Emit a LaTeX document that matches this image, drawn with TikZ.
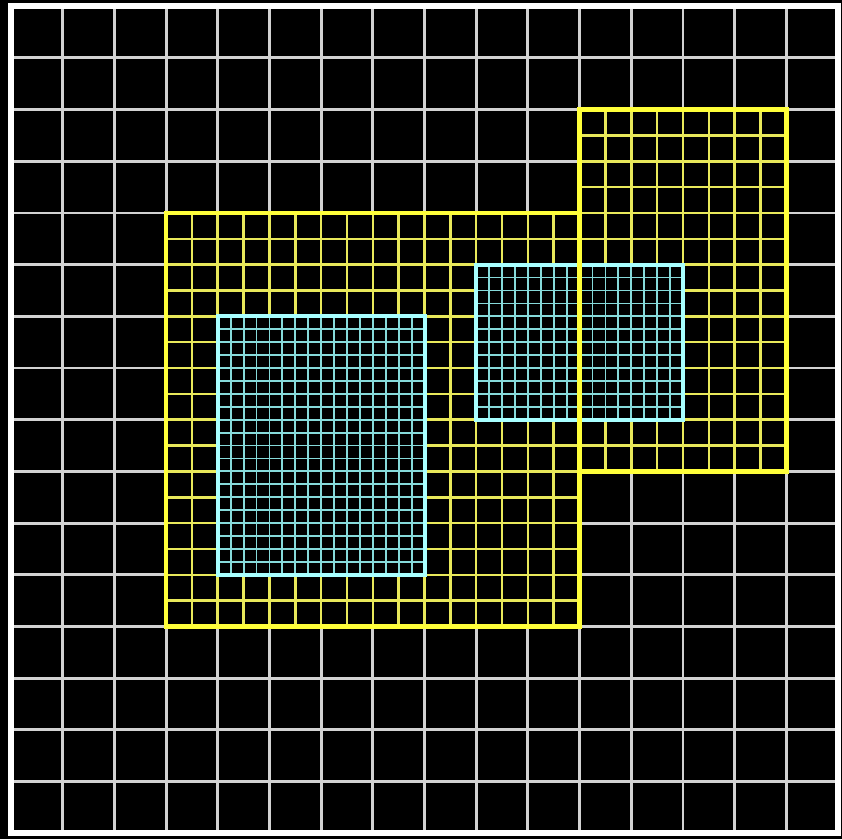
\documentclass[tikz,border=0pt]{standalone}
\usepackage{tikz}

\definecolor{gridwhite}{HTML}{D2D2D2}
\definecolor{lvlyellow}{HTML}{E8E85A}
\definecolor{edgeyellow}{HTML}{FFFF3A}
\definecolor{lvlcyan}{HTML}{86DADA}
\definecolor{edgecyan}{HTML}{A8FFFF}

\tikzset{
	coarse/.style={gridwhite, line width=1.6pt},
	frame/.style={white, line width=3.2pt},
	fineyellow/.style={lvlyellow, line width=1.4pt},
	outyellow/.style={edgeyellow, line width=2.6pt},
	finecyan/.style={lvlcyan, line width=1pt},
	outcyan/.style={edgecyan, line width=2.2pt}
}

\begin{document}
\begin{tikzpicture}[x=1cm, y=1cm]
	\useasboundingbox (-0.213,-0.12) rectangle (16.077,16.12);
	\fill[black] (-0.213,-0.12) rectangle (16.077,16.12);
	% level 0
	\draw[coarse] (0,0) grid[step=1] (16,16);
	\draw[frame] (0,0) rectangle (16,16);
	% level 1
	\foreach \xa/\ya/\xb/\yb in {3/4/11/12, 11/7/15/14} {
		\fill[black] (\xa,\ya) rectangle (\xb,\yb);
		\draw[fineyellow] (\xa,\ya) grid[step=0.5] (\xb,\yb);
	}
	% level 2
	\foreach \xa/\ya/\xb/\yb in {4/5/8/10, 9/8/13/11} {
		\fill[black] (\xa,\ya) rectangle (\xb,\yb);
		\draw[finecyan] (\xa,\ya) grid[step=0.25] (\xb,\yb);
		\draw[outcyan] (\xa,\ya) rectangle (\xb,\yb);
	}
	% patch edges
	\draw[outyellow] (3,4) rectangle (11,12);
	\draw[outyellow] (11,7) rectangle (15,14);
\end{tikzpicture}
\end{document}
